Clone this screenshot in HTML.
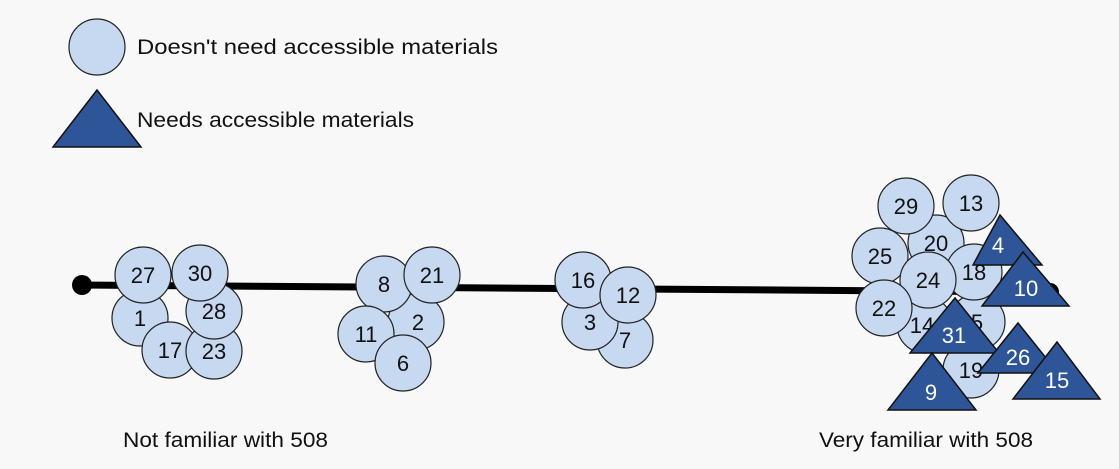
<!DOCTYPE html>
<html><head><style>body{margin:0;background:#f8f8f8}svg{display:block}</style></head><body>
<svg width="1119" height="469" viewBox="0 0 1119 469" xmlns="http://www.w3.org/2000/svg" font-family="Liberation Sans, Arial, sans-serif">
<rect width="1119" height="469" fill="#f8f8f8"/>
<g stroke="#222" stroke-width="1.2" fill="#c6d9f1">
<circle cx="97" cy="47" r="28"/>
</g>
<polygon points="97,90 53,147 141,147" fill="#2e5597" stroke="#111" stroke-width="1.5"/>
<g font-size="21" fill="#111">
<text x="137" y="54" textLength="361" lengthAdjust="spacingAndGlyphs">Doesn't need accessible materials</text>
<text x="137" y="127" textLength="277" lengthAdjust="spacingAndGlyphs">Needs accessible materials</text>
<text x="123" y="447" textLength="205" lengthAdjust="spacingAndGlyphs">Not familiar with 508</text>
<text x="819" y="447" textLength="214" lengthAdjust="spacingAndGlyphs">Very familiar with 508</text>
</g>
<line x1="82" y1="285" x2="1050" y2="292" stroke="#000" stroke-width="7"/>
<circle cx="82" cy="285" r="10" fill="#000"/>
<circle cx="1050" cy="292" r="9" fill="#000"/>
<g stroke="#222" stroke-width="1.2" fill="#c6d9f1">
<circle cx="140" cy="318" r="28"/>
<circle cx="170" cy="350" r="28"/>
<circle cx="214" cy="351" r="28"/>
<circle cx="214" cy="311" r="28"/>
<circle cx="143" cy="275" r="28"/>
<circle cx="200" cy="273" r="28"/>
<circle cx="416" cy="322" r="28"/>
<circle cx="384" cy="284" r="28"/>
<circle cx="366" cy="334" r="28"/>
<circle cx="403" cy="363" r="28"/>
<circle cx="432" cy="275" r="28"/>
<circle cx="625" cy="340" r="28"/>
<circle cx="590" cy="322" r="28"/>
<circle cx="583" cy="280" r="28"/>
<circle cx="628" cy="295" r="28"/>
<circle cx="936" cy="243" r="28"/>
<circle cx="906" cy="206" r="28"/>
<circle cx="971" cy="203" r="28"/>
<circle cx="880" cy="256" r="28"/>
<circle cx="977" cy="322" r="28"/>
<circle cx="925" cy="325" r="28"/>
<circle cx="971" cy="370" r="28"/>
<circle cx="974" cy="272" r="28"/>
<circle cx="928" cy="280" r="28"/>
<circle cx="884" cy="308" r="28"/>
</g>
<g font-size="22" fill="#111" text-anchor="middle">
<text x="140" y="326">1</text><text x="170" y="358">17</text><text x="214" y="359">23</text>
<text x="214" y="319">28</text><text x="143" y="283">27</text><text x="200" y="281">30</text>
<text x="418" y="330">2</text><text x="384" y="292">8</text><text x="366" y="342">11</text>
<text x="403" y="371">6</text><text x="432" y="283">21</text>
<text x="625" y="348">7</text><text x="590" y="330">3</text><text x="583" y="288">16</text><text x="628" y="303">12</text>
<text x="936" y="251">20</text><text x="906" y="214">29</text><text x="971" y="211">13</text>
<text x="880" y="264">25</text><text x="977" y="330">5</text><text x="922" y="333">14</text>
<text x="971" y="378">19</text><text x="974" y="280">18</text><text x="928" y="288">24</text><text x="884" y="316">22</text>
</g>
<g fill="#2e5597" stroke="#111" stroke-width="1.5">
<polygon points="1000,215 973,265 1042,265"/>
<polygon points="1023,252 982,306 1069,306"/>
<polygon points="955,298 910,353 999,353"/>
<polygon points="1018,323 978,373 1058,373"/>
<polygon points="932,353 888,410 976,410"/>
<polygon points="1057,342 1013,399 1100,399"/>
</g>
<g font-size="22" fill="#fff" text-anchor="middle">
<text x="998" y="253">4</text><text x="1026" y="296">10</text><text x="954" y="343">31</text>
<text x="1018" y="365">26</text><text x="931" y="400">9</text><text x="1057" y="388">15</text>
</g>
</svg>
</body></html>
